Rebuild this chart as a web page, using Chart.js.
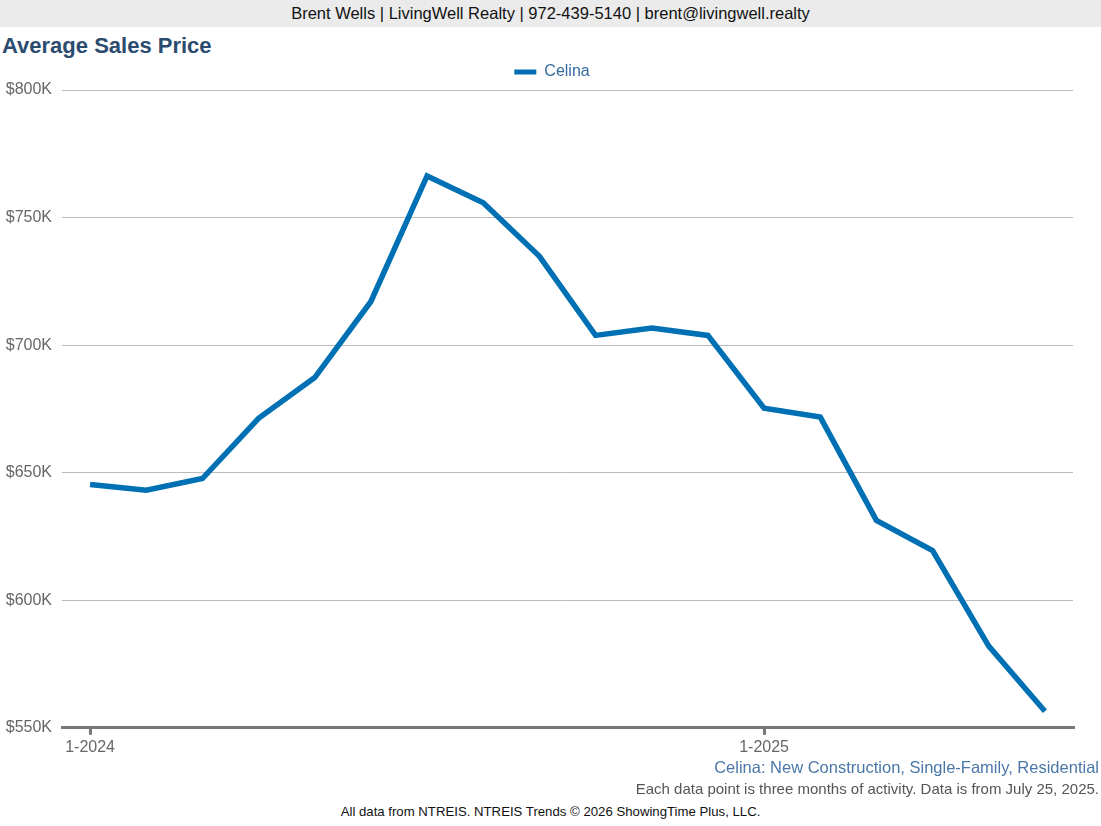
<!DOCTYPE html>
<html>
<head>
<meta charset="utf-8">
<script src="https://cdn.jsdelivr.net/npm/chart.js@4.4.1/dist/chart.umd.min.js"></script>
<style>
  body { margin: 0; width: 1101px; height: 826px; background: #fff; font-family: Arial, "Liberation Sans", sans-serif; position: relative; overflow: hidden; }
  #header { position: absolute; left: 0; top: 0; width: 1101px; height: 27px; background: #ebebeb; text-align: center; font-size: 16.5px; line-height: 27px; color: #111; }
  #title { position: absolute; left: 2px; top: 33px; font-size: 22px; font-weight: bold; color: #2b4b6f; }
  #chart-wrap { position: absolute; left: 0; top: 56px; width: 1101px; height: 704px; }
  .foot { position: absolute; right: 2px; white-space: nowrap; }
  #sub1 { top: 758px; font-size: 16.5px; color: #4a77a8; }
  #sub2 { top: 780px; font-size: 15px; color: #555; }
  #credit { position: absolute; left: 0; width: 1101px; top: 804px; text-align: center; font-size: 13.2px; color: #111; }
</style>
</head>
<body>
<div id="header">Brent Wells | LivingWell Realty | 972-439-5140 | brent@livingwell.realty</div>
<div id="title">Average Sales Price</div>
<div id="chart-wrap"><canvas id="chart" width="1101" height="704"></canvas></div>
<div id="sub1" class="foot">Celina: New Construction, Single-Family, Residential</div>
<div id="sub2" class="foot">Each data point is three months of activity. Data is from July 25, 2025.</div>
<div id="credit">All data from NTREIS. NTREIS Trends © 2026 ShowingTime Plus, LLC.</div>

<script>
'use strict'

// months, Jan 2024 - Jun 2025
const months = [
  '1-2024', '2-2024', '3-2024', '4-2024', '5-2024', '6-2024',
  '7-2024', '8-2024', '9-2024', '10-2024', '11-2024', '12-2024',
  '1-2025', '2-2025', '3-2025', '4-2025', '5-2025', '6-2025',
];
const shownLabels = ['1-2024', '1-2025'];

// average sales price (3 month rolling), in dollars
const celinaPrice = [
  645400, 643100, 647700, 671300, 687300, 717100,
  766300, 755800, 734800, 703800, 706700, 703800,
  675300, 671800, 631300, 619500, 582000, 556500,
];

const yTicks = [550000, 600000, 650000, 700000, 750000, 800000];

const blue = '#0070b4';
const fontFamily = 'Arial, "Liberation Sans", sans-serif';

const ctx = document.getElementById('chart');

new Chart(ctx, {
  type: 'line',
  data: {
    labels: months,
    datasets: [{
      label: 'Celina',
      data: celinaPrice,
      borderColor: blue,
      backgroundColor: blue,
      borderWidth: 5.5,
      pointRadius: 0,
      tension: 0,
      borderJoinStyle: 'miter',
    }]
  },
  options: {
    responsive: false,
    animation: false,
    devicePixelRatio: 1,
    layout: { padding: { left: 3, right: 0, top: 0, bottom: 0 } },
    plugins: {
      legend: {
        position: 'top',
        labels: {
          boxWidth: 22,
          boxHeight: 5,
          color: '#3569a0',
          font: { family: fontFamily, size: 16 },
          padding: 8,
          generateLabels: function(chart) {
            const items = Chart.defaults.plugins.legend.labels.generateLabels(chart);
            items.forEach(function(it) { it.lineWidth = 0; });
            return items;
          }
        }
      },
      tooltip: { enabled: false },
    },
    scales: {
      x: {
        offset: true,
        border: { color: '#777', width: 3 },
        grid: {
          drawOnChartArea: false,
          tickLength: 7,
          lineWidth: 3,
          color: function(c) {
            return shownLabels.includes(months[c.index]) ? '#777' : 'rgba(0,0,0,0)';
          },
        },
        ticks: {
          autoSkip: false,
          maxRotation: 0,
          color: '#666',
          padding: 3,
          font: { family: fontFamily, size: 16 },
          callback: function(v, i) {
            return shownLabels.includes(months[i]) ? months[i] : '';
          }
        }
      },
      y: {
        min: yTicks[0],
        max: yTicks[yTicks.length - 1],
        afterBuildTicks: function(axis) {
          axis.ticks = yTicks.map(function(v) { return { value: v }; });
        },
        afterFit: function(axis) { axis.width = 59; },
        border: { display: false },
        grid: { color: '#bbb', lineWidth: 1, drawTicks: false },
        ticks: {
          color: '#666',
          padding: 10,
          font: { family: fontFamily, size: 16 },
          callback: function(v) { return '$' + (v / 1000) + 'K'; }
        }
      },
      // empty axis on the right, just keeps the gap after the plot
      yRight: {
        position: 'right',
        afterFit: function(axis) { axis.width = 28; },
        grid: { display: false },
        border: { display: false },
        ticks: { display: false }
      }
    }
  }
});
</script>
</body>
</html>
